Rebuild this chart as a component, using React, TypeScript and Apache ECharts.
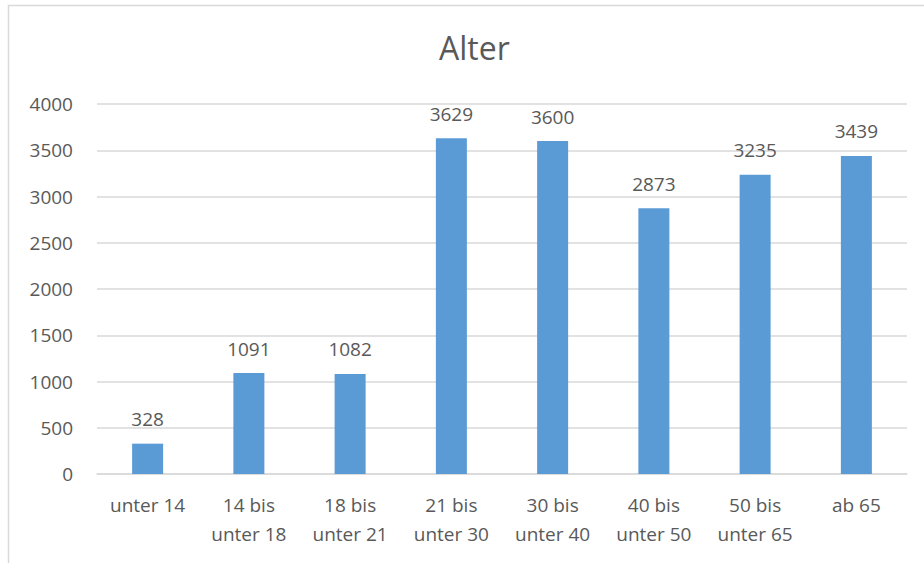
import React, { useEffect, useRef } from "react";
import * as echarts from "echarts";

const categories = [
  "unter 14",
  "14 bis\nunter 18",
  "18 bis\nunter 21",
  "21 bis\nunter 30",
  "30 bis\nunter 40",
  "40 bis\nunter 50",
  "50 bis\nunter 65",
  "ab 65",
];
const counts = [328, 1091, 1082, 3629, 3600, 2873, 3235, 3439];
const yTicks = { min: 0, max: 4000, interval: 500 };

const FONT = "'Open Sans', Lato, sans-serif";
const TEXT = "#595959";
const LINE = "#d9d9d9";

export default function App() {
  const ref = useRef<HTMLDivElement>(null);

  useEffect(() => {
    if (!ref.current) return;
    const chart = echarts.init(ref.current, null, { renderer: "svg" });
    chart.setOption({
      animation: false,
      backgroundColor: "#ffffff",
      graphic: [
        {
          type: "rect",
          shape: { x: 8.5, y: 5.5, width: 1000, height: 1000 },
          style: { fill: "none", stroke: LINE, lineWidth: 1.5 },
          silent: true,
        },
      ],
      title: {
        text: "Alter",
        left: 434,
        top: 26,
        textStyle: { fontFamily: FONT, fontSize: 32, fontWeight: "normal", color: TEXT },
      },
      grid: { left: 97, right: 17, top: 104, bottom: 89, containLabel: false },
      xAxis: {
        type: "category",
        data: categories,
        axisLine: { lineStyle: { color: LINE, width: 1.5 } },
        axisTick: { show: false },
        axisLabel: {
          fontFamily: FONT,
          fontSize: 19,
          color: TEXT,
          margin: 16,
          lineHeight: 29,
          interval: 0,
        },
      },
      yAxis: {
        type: "value",
        min: yTicks.min,
        max: yTicks.max,
        interval: yTicks.interval,
        axisLine: { show: false },
        axisTick: { show: false },
        splitLine: { lineStyle: { color: LINE, width: 1.5 } },
        axisLabel: {
          fontFamily: FONT,
          fontSize: 19,
          color: TEXT,
          margin: 24,
          formatter: (v: number) => String(v),
        },
      },
      series: [
        {
          type: "bar",
          data: counts,
          barWidth: 31,
          itemStyle: { color: "#5b9bd5" },
          label: {
            show: true,
            position: "top",
            distance: 15,
            fontFamily: FONT,
            fontSize: 19,
            color: TEXT,
          },
        },
      ],
    });
    return () => chart.dispose();
  }, []);

  return (
    <div
      ref={ref}
      style={{ position: "fixed", left: 0, top: 0, width: 924, height: 563 }}
    />
  );
}
